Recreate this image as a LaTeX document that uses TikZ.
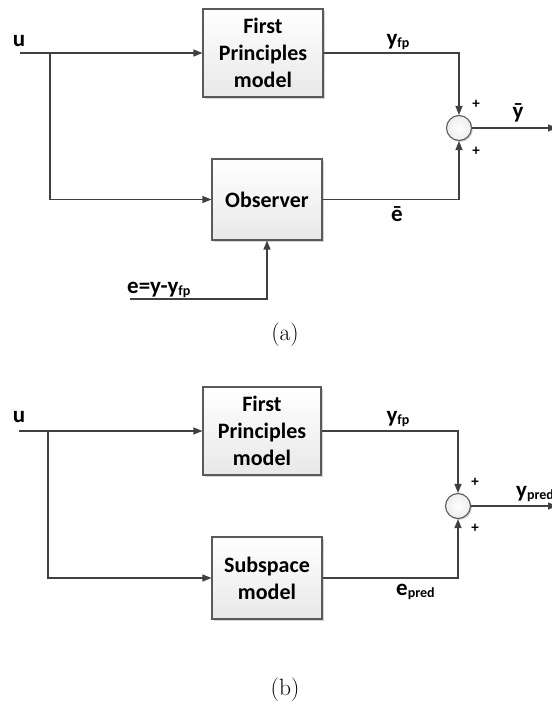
\documentclass[tikz,border=0pt]{standalone}
\usepackage{fontspec}
\newfontfamily\blockfont{Carlito}
\usetikzlibrary{arrows.meta,shadows}

\definecolor{wire}{HTML}{404040}
\definecolor{edge}{HTML}{5A5A5A}

\tikzset{
  block/.style={draw=edge, line width=1.1pt, rectangle, inner sep=0pt,
    top color=white, bottom color=gray!18, align=center,
    font=\blockfont\bfseries\fontsize{22}{27}\selectfont,
    drop shadow={shadow xshift=1.6pt, shadow yshift=-1.6pt, opacity=0.35, fill=gray}},
  sumnode/.style={draw=edge, line width=1.1pt, circle, minimum size=25pt, inner sep=0pt,
    inner color=white, outer color=gray!15,
    drop shadow={shadow xshift=1.4pt, shadow yshift=-1.4pt, opacity=0.35, fill=gray}},
  wireline/.style={draw=wire, line width=1.2pt},
  flow/.style={wireline, -{Triangle[length=9pt,width=7pt]}},
  sig/.style={font=\blockfont\bfseries\fontsize{23}{27}\selectfont, inner sep=0pt},
  sign/.style={font=\blockfont\bfseries\fontsize{15}{15}\selectfont, inner sep=0pt},
  caption/.style={font=\fontsize{23.5}{28}\selectfont, inner sep=0pt},
}
\newcommand\subtxt[1]{\raisebox{-0.25ex}{\fontsize{14}{14}\selectfont #1}}

\begin{document}
\begin{tikzpicture}[x=1pt, y=-1pt]
  \useasboundingbox (0,0) rectangle (551,719);

  % ---------- (a) first principles model with observer ----------
  \node[block, minimum width=120pt, minimum height=88pt] (fpA) at (263,53) {First\\Principles\\model};
  \node[block, minimum width=110pt, minimum height=81pt] (obs) at (267,199.5) {Observer};
  \node[sumnode] (sumA) at (459,128) {};

  \coordinate (uA) at (20,53);
  \coordinate (splitA) at (50,53);
  \coordinate (eIn) at (130,299);
  \coordinate (outA) at (557,128);

  \draw[flow] (uA) -- (fpA.west);
  \draw[flow] (splitA) |- (obs.west);
  \draw[flow] (fpA.east) -| (sumA.north);
  \draw[flow] (obs.east) -| (sumA.south);
  \draw[flow] (eIn) -| (obs.south);
  \draw[flow] (sumA.east) -- (outA);

  \node[sig] (uLblA) at (19,41) {u};
  \node[sig] (yfpA) at (398,42) {y\subtxt{fp}};
  \node[sign] (pA1) at (476,104) {+};
  \node[sign] (pA2) at (476,151) {+};
  \node[sig] (ybar) at (518,113) {ȳ};
  \node[sig] (ebar) at (397,214) {ē};
  \node[sig, anchor=base west] (eLbl) at (127,293) {e=y-y\subtxt{fp}};
  \node[caption] (capA) at (285,335) {(a)};

  % ---------- (b) first principles model with subspace model ----------
  \node[block, minimum width=118pt, minimum height=88pt] (fpB) at (262,431) {First\\Principles\\model};
  \node[block, minimum width=110pt, minimum height=82pt] (sub) at (267,578) {Subspace\\model};
  \node[sumnode] (sumB) at (458,506) {};

  \coordinate (uB) at (19,431);
  \coordinate (splitB) at (48,431);
  \coordinate (outB) at (557,506);

  \draw[flow] (uB) -- (fpB.west);
  \draw[flow] (splitB) |- (sub.west);
  \draw[flow] (fpB.east) -| (sumB.north);
  \draw[flow] (sub.east) -| (sumB.south);
  \draw[flow] (sumB.east) -- (outB);

  \node[sig] (uLblB) at (19,417) {u};
  \node[sig] (yfpB) at (398,419) {y\subtxt{fp}};
  \node[sign] (pB1) at (475,482) {+};
  \node[sign] (pB2) at (475,528) {+};
  \node[sig, anchor=base west] (ypred) at (516,497) {y\subtxt{pred}};
  \node[sig, anchor=base west] (epred) at (396,595) {e\subtxt{pred}};
  \node[caption] (capB) at (285,690) {(b)};
\end{tikzpicture}
\end{document}
